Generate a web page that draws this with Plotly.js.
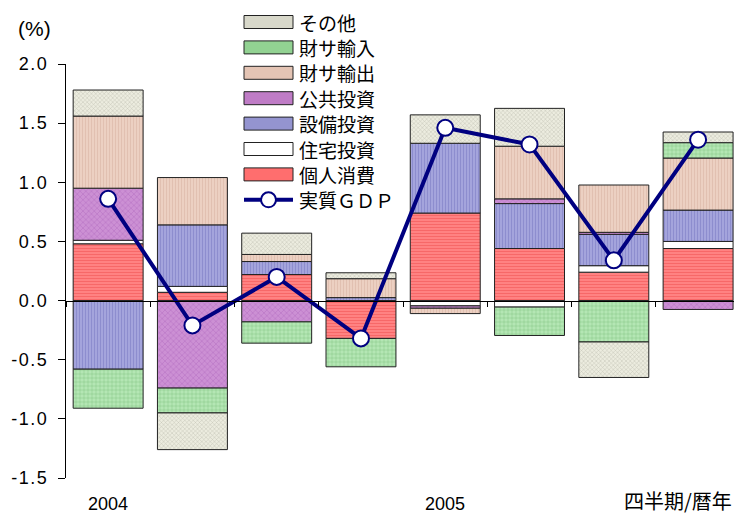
<!DOCTYPE html>
<html>
<head>
<meta charset="utf-8">
<script src="https://cdn.plot.ly/plotly-3.0.1.min.js"></script>
<style>
  html, body { margin: 0; padding: 0; background: #fff; }
  #chart { width: 734px; height: 515px; }
  .ytick text { letter-spacing: 1.5px; }
</style>
</head>
<body>
<div id="chart"></div>
<script>
// ---- data ----
const quarters = ['2004Q1','2004Q2','2004Q3','2004Q4','2005Q1','2005Q2','2005Q3','2005Q4'];
const yearLabels = ['2004', '2005'];
const yearLabelIndex = [0, 4];
const axisNote = '四半期/暦年';
const unitLabel = '(%)';

const kojinShohi   = [0.48, 0.07, 0.22, -0.32, 0.74, 0.44, 0.24, 0.44];    // 個人消費
const jutakuToshi  = [0.03, 0.05, null, null, -0.045, -0.055, 0.055, 0.06]; // 住宅投資
const setsubiToshi = [-0.58, 0.52, 0.11, 0.025, 0.59, 0.38, 0.265, 0.265]; // 設備投資
const kokyoToshi   = [0.44, -0.74, -0.18, null, -0.02, 0.04, 0.017, -0.075]; // 公共投資
const yushutsu     = [0.61, 0.40, 0.06, 0.16, -0.045, 0.445, 0.40, 0.44];  // 財サ輸出
const yunyu        = [-0.33, -0.21, -0.18, -0.24, null, -0.24, -0.35, 0.13]; // 財サ輸入
const sonota       = [0.22, -0.31, 0.18, 0.05, 0.24, 0.32, -0.30, 0.09];   // その他
const realGDP      = [0.86, -0.21, 0.20, -0.32, 1.46, 1.32, 0.34, 1.36];   // 実質GDP

const yTickVals = [-1.5, -1.0, -0.5, 0, 0.5, 1.0, 1.5, 2.0];
const yTickText = ['-1.5', '-1.0', '-0.5', '0.0', '0.5', '1.0', '1.5', '2.0'];

const seriesNames = ['個人消費', '住宅投資', '設備投資', '公共投資', '財サ輸出', '財サ輸入', 'その他'];
const gdpName = '実質ＧＤＰ';

// ---- styles ----
const styles = {
  '個人消費': {bg: '#ff8282', fg: '#f04e4e', shape: '-', size: 3, sol: 0.35, swatch: '#ff6e6e'},
  '住宅投資': {bg: '#ffffff', fg: '#ffffff', shape: '', size: 3, sol: 0.3, swatch: '#ffffff'},
  '設備投資': {bg: '#a4a4dc', fg: '#7070bc', shape: '|', size: 3, sol: 0.3, swatch: '#9494d0'},
  '公共投資': {bg: '#cc90d4', fg: '#a050b0', shape: 'x', size: 4, sol: 0.25, swatch: '#bf7cc6'},
  '財サ輸出': {bg: '#ecd0c2', fg: '#d4ae9c', shape: '|', size: 3, sol: 0.3, swatch: '#e4c4b4'},
  '財サ輸入': {bg: '#b4e6b4', fg: '#4c9c4c', shape: '+', size: 4, sol: 0.2, swatch: '#92d292'},
  'その他':   {bg: '#ececdf', fg: '#8c8c7c', shape: 'x', size: 3, sol: 0.25, swatch: '#d8d8ca'}
};
const seriesData = [kojinShohi, jutakuToshi, setsubiToshi, kokyoToshi, yushutsu, yunyu, sonota];

const traces = seriesNames.map((name, i) => {
  const s = styles[name];
  const marker = {
    color: s.bg,
    line: {color: '#222222', width: 1}
  };
  if (s.shape) {
    marker.pattern = {shape: s.shape, bgcolor: s.bg, fgcolor: s.fg, size: s.size, solidity: s.sol, fillmode: 'overlay'};
  }
  return {
    type: 'bar', name: name, x: quarters, y: seriesData[i],
    marker: marker, showlegend: false, hoverinfo: 'x+y+name'
  };
});

traces.push({
  type: 'scatter', mode: 'lines+markers', name: gdpName,
  x: quarters, y: realGDP,
  line: {color: '#000080', width: 4},
  marker: {symbol: 'circle', size: 16, color: '#ffffff', line: {color: '#000080', width: 2}},
  showlegend: false, cliponaxis: false
});

// ---- layout geometry (pixels -> paper) ----
const M = {l: 66, r: 0, t: 64, b: 37};
const W = 734, H = 515;
const PW = W - M.l - M.r, PH = H - M.t - M.b;
const px = p => (p - M.l) / PW;
const py = p => (H - M.b - p) / PH;

const shapes = [];
const annotations = [];

// custom legend (top to bottom)
const legendOrder = ['その他', '財サ輸入', '財サ輸出', '公共投資', '設備投資', '住宅投資', '個人消費'];
legendOrder.forEach((name, i) => {
  const cy = 22 + 25.4 * i;
  shapes.push({
    type: 'rect', xref: 'paper', yref: 'paper', layer: 'above',
    x0: px(244), x1: px(293), y0: py(cy - 6.5), y1: py(cy + 6.5),
    fillcolor: styles[name].swatch, line: {color: '#222222', width: 1}
  });
  annotations.push({
    xref: 'paper', yref: 'paper', x: px(297), y: py(cy), xanchor: 'left', yanchor: 'middle',
    text: name, showarrow: false,
    font: {family: 'Noto Sans CJK JP', size: 19, color: '#000000'}
  });
});
{
  const cy = 22 + 25.4 * 7;
  shapes.push({
    type: 'line', xref: 'paper', yref: 'paper', layer: 'above',
    x0: px(244), x1: px(293), y0: py(cy), y1: py(cy),
    line: {color: '#000080', width: 4}
  });
  shapes.push({
    type: 'circle', xref: 'paper', yref: 'paper', layer: 'above',
    x0: px(268.5 - 7.5), x1: px(268.5 + 7.5), y0: py(cy - 7.5), y1: py(cy + 7.5),
    fillcolor: '#ffffff', line: {color: '#000080', width: 2}
  });
  annotations.push({
    xref: 'paper', yref: 'paper', x: px(297), y: py(cy), xanchor: 'left', yanchor: 'middle',
    text: gdpName, showarrow: false,
    font: {family: 'Noto Sans CJK JP', size: 19, color: '#000000'}
  });
}

// unit label
annotations.push({
  xref: 'paper', yref: 'paper', x: px(34), y: py(28), xanchor: 'center', yanchor: 'middle',
  text: unitLabel, showarrow: false,
  font: {family: 'Liberation Sans, Arial, sans-serif', size: 21, color: '#000000'}
});
// year labels
yearLabels.forEach((t, i) => {
  annotations.push({
    xref: 'x', yref: 'paper', x: quarters[yearLabelIndex[i]], y: py(504),
    xanchor: 'center', yanchor: 'middle', text: t, showarrow: false,
    font: {family: 'Liberation Sans, Arial, sans-serif', size: 18, color: '#000000'}
  });
});
annotations.push({
  xref: 'paper', yref: 'paper', x: px(734), y: py(500), xanchor: 'right', yanchor: 'middle',
  text: axisNote, showarrow: false,
  font: {family: 'Noto Sans CJK JP', size: 20, color: '#000000'}
});

const yMin = -1.5, yMax = 2.0;
const layout = {
  width: W, height: H,
  margin: M,
  paper_bgcolor: '#ffffff', plot_bgcolor: '#ffffff',
  barmode: 'relative', bargap: 0.17,
  showlegend: false,
  font: {family: 'Liberation Sans, Arial, sans-serif', color: '#000000'},
  xaxis: {
    type: 'category', range: [-0.5, 7.426],
    anchor: 'free', position: (0 - yMin) / (yMax - yMin),
    showline: true, linecolor: '#000000', linewidth: 1,
    ticks: 'outside', tickson: 'boundaries', ticklen: 5, tickcolor: '#000000', tickwidth: 1,
    showticklabels: false, showgrid: false, zeroline: false, fixedrange: true
  },
  yaxis: {
    range: [yMin, yMax], tickvals: yTickVals, ticktext: yTickText,
    ticks: 'outside', ticklen: 7, tickcolor: '#000000', tickwidth: 1,
    ticklabelstandoff: 6,
    showline: true, linecolor: '#000000', linewidth: 1,
    showgrid: false, zeroline: false,
    tickfont: {family: 'Liberation Sans, Arial, sans-serif', size: 18, color: '#000000'},
    fixedrange: true
  },
  shapes: shapes,
  annotations: annotations
};

Plotly.newPlot('chart', traces, layout, {displayModeBar: false, staticPlot: true});
</script>
</body>
</html>
